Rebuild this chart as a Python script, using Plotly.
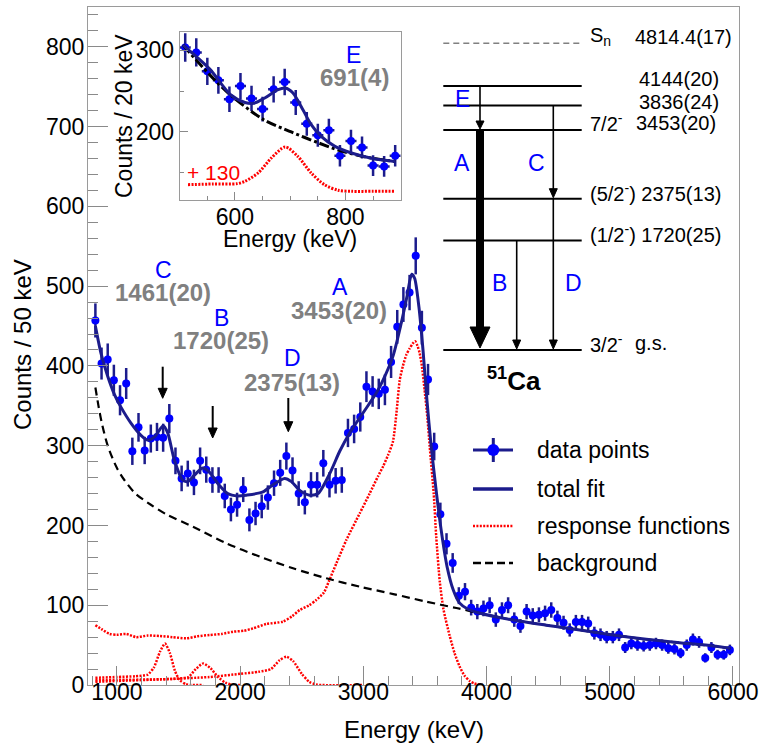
import numpy as np
import plotly.graph_objects as go

FONT = "Liberation Sans, Arial, sans-serif"

# ---------------- main spectrum (50 keV bins) ----------------
bin_centers = list(range(825, 6000, 50))
counts = [457, 403, 408, 382, 357, 378, 293, 323, 294, 309,
          311, 310, 334, 281, 259, 265, 254, 281, 270, 257,
          257, 237, 220, 226, 245, 207, 215, 224, 235, 253,
          266, 287, 269, 240, 229, 251, 251, 278, 251, 256,
          257, 316, 321, 336, 374, 368, 365, 370, 405, 449,
          477, 492, 538, 448, 383, 299, 214, 177, 153, 112,
          117, 97, 92, 96, 100, 82, 94, 100, 82, 74,
          92, 87, 88, 90, 94, 84, 78, 69, 79, 79,
          77, 65, 63, 60, 60, 63, 47, 52, 50, 49,
          50, 52, 50, 46, 45, 40, 50, 57, 54, 34,
          47, 38, 38, 44]
assert len(counts) == len(bin_centers)
half_bin = 25

fit_x = [825, 870, 925, 980, 1030, 1115, 1195, 1250, 1305, 1375, 1412, 1466, 1533, 1574,
         1628, 1696, 1750, 1817, 1899, 1980, 2050, 2185, 2266, 2361, 2416, 2483, 2564,
         2632, 2727, 2808, 2889, 2997, 3105, 3159, 3240, 3308, 3354, 3392, 3416, 3451,
         3484, 3516, 3550, 3590, 3630, 3680, 3730, 3780, 3850, 3950, 4214, 4485, 4756,
         5026, 5297, 5567, 5838, 5979]
fit_y = [450, 416, 387, 364, 349, 328, 313, 307, 311, 325, 316, 282, 257, 255,
         263, 272, 267, 253, 240, 237, 238, 242, 251, 259, 255, 244, 238,
         240, 265, 293, 316, 341, 366, 382, 412, 454, 487, 515, 510, 474,
         420, 357, 300, 245, 196, 148, 119, 103, 95, 90, 81.5, 75, 69,
         62.7, 57.3, 53, 49, 46]

bg_x = [825, 850, 875, 925, 1000, 1060, 1150, 1275, 1400, 1617, 1888, 2158, 2429, 2700,
        2970, 3243, 3511, 3755, 3944, 4214, 4485, 4756, 5026, 5297, 5567, 5838, 5979]
bg_y = [373, 350, 330, 300, 272, 257, 240, 226, 214, 198.5, 177.7, 161, 146.3, 133.8,
        123.3, 114, 104.5, 96.5, 90, 81.5, 75, 69, 62.7, 57.3, 53, 49, 46]

respA_x = [825, 875, 940, 1000, 1076, 1157, 1250, 1347, 1450, 1563, 1650, 1752, 1850, 1942,
           2030, 2104, 2213, 2347, 2420, 2483, 2560, 2618, 2680, 2720, 2781, 2862, 2970,
           3051, 3120, 3160, 3200, 3240, 3268, 3295, 3321, 3349, 3376, 3400, 3420, 3440,
           3457, 3475, 3497, 3520, 3538, 3571, 3592, 3620, 3650, 3700, 3740, 3782, 3820,
           3863, 3900, 3970]
respA_y = [75, 70, 64, 63, 64, 60, 62, 61.5, 60, 58.5, 61, 62.7, 64, 66.8,
           68, 71, 76.5, 79.4, 86, 94, 100, 106.6, 116, 130, 152.6, 181.8, 215,
           240, 262, 274, 288, 305, 340, 382, 400, 414, 422, 428, 431, 425,
           416, 400, 370, 335, 300, 240, 185, 130, 95, 62, 40, 23, 12,
           5, 2, 0]

respC_x = [825, 1000, 1150, 1250, 1300, 1350, 1390, 1430, 1470, 1510, 1560, 1600, 1700]
respC_y = [9, 10, 11, 13, 22, 42, 52, 40, 18, 6, 1, 0, 0]

respB_x = [825, 1000, 1300, 1500, 1580, 1640, 1700, 1760, 1820, 1880, 1940, 2000]
respB_y = [6, 6.5, 7, 8, 10, 20, 27, 21, 10, 3, 0, 0]

respD_x = [825, 1000, 1350, 1750, 2000, 2150, 2250, 2320, 2375, 2430, 2500, 2560, 2620, 3000]
respD_y = [4, 5, 7, 10, 14, 16.5, 20, 31, 35.5, 30, 14, 4, 0.5, 0]

# ---------------- inset (20 keV bins) ----------------
ins_x = list(range(510, 900, 20))
ins_counts = [303, 297, 274, 263, 240, 256, 241, 228, 252, 261,
              236, 210, 196, 202, 171, 189, 181, 159, 158, 171]
ins_half_bin = 10
ins_fit_x = [506, 554, 592, 618, 634, 654, 678, 691, 705, 723, 738, 756, 781, 811, 847, 890]
ins_fit_y = [306, 277, 245.5, 236, 235, 241.5, 251.6, 253.6, 247.5, 227, 209, 194.6, 182.5,
             174.4, 168, 164]
ins_bg_x = [506, 554, 592, 652, 702, 750, 791, 840, 890]
ins_bg_y = [306, 270, 245, 215, 200, 187, 177, 169, 164]
ins_resp_x = [515, 560, 605, 618, 642, 666, 691, 714, 738, 762, 787, 811, 850, 889]
ins_resp_y = [135.7, 136.5, 137, 139.8, 150, 168.3, 181.7, 170, 150, 135.7, 128.8, 127.6,
              127.6, 127.6]

# ---------------- level scheme of 51Ca ----------------
level_E = [0, 1720, 2375, 3453, 3836, 4144]
Sn_E = 4814.4

# ---------------- colours ----------------
BLUE = "#0000ff"
NAVY = "#1c1c8c"
RED = "#ff0000"
GRAY = "#808080"

# ---------------- layout geometry ----------------
W, H = 764, 743
L, R, T, B = 88, 739, 7, 685


def PX(px):
    return (px - L) / (R - L)


def PY(py):
    return (B - py) / (B - T)


fig = go.Figure()

# main data
fig.add_trace(go.Scatter(
    x=bin_centers, y=counts, mode="markers",
    marker=dict(color=BLUE, size=8),
    error_y=dict(type="data", array=list(np.sqrt(counts)), color=NAVY, thickness=2.5, width=0),
    error_x=dict(type="constant", value=half_bin, color=NAVY, thickness=2.5, width=0),
    showlegend=False, xaxis="x", yaxis="y"))

dot = "2px,1.4px"
for rx, ry in [(respA_x, respA_y), (respC_x, respC_y), (respB_x, respB_y), (respD_x, respD_y)]:
    fig.add_trace(go.Scatter(x=rx, y=ry, mode="lines",
                             line=dict(color=RED, width=2.5, dash=dot, shape="spline", smoothing=0.6),
                             showlegend=False, xaxis="x", yaxis="y"))
fig.add_trace(go.Scatter(x=bg_x, y=bg_y, mode="lines",
                         line=dict(color="black", width=2.2, dash="8px,5px", shape="spline", smoothing=0.8),
                         showlegend=False, xaxis="x", yaxis="y"))
fig.add_trace(go.Scatter(x=fit_x, y=fit_y, mode="lines",
                         line=dict(color=NAVY, width=3, shape="spline", smoothing=0.7),
                         showlegend=False, xaxis="x", yaxis="y"))

# inset
fig.add_trace(go.Scatter(
    x=ins_x, y=ins_counts, mode="markers",
    marker=dict(color=BLUE, size=8),
    error_y=dict(type="data", array=list(np.sqrt(ins_counts)), color=NAVY, thickness=2.5, width=0),
    error_x=dict(type="constant", value=ins_half_bin, color=NAVY, thickness=2.5, width=0),
    showlegend=False, xaxis="x2", yaxis="y2"))
fig.add_trace(go.Scatter(x=ins_resp_x, y=ins_resp_y, mode="lines",
                         line=dict(color=RED, width=3, dash=dot, shape="spline", smoothing=0.8),
                         showlegend=False, xaxis="x2", yaxis="y2"))
fig.add_trace(go.Scatter(x=ins_bg_x, y=ins_bg_y, mode="lines",
                         line=dict(color="black", width=3, dash="10px,3px,3px,3px", shape="spline", smoothing=0.8),
                         showlegend=False, xaxis="x2", yaxis="y2"))
fig.add_trace(go.Scatter(x=ins_fit_x, y=ins_fit_y, mode="lines",
                         line=dict(color=NAVY, width=3, shape="spline", smoothing=0.8),
                         showlegend=False, xaxis="x2", yaxis="y2"))

shapes = []
ann = []


def line_px(x0, y0, x1, y1, color="black", width=2, dash="solid"):
    shapes.append(dict(type="line", xref="paper", yref="paper",
                       x0=PX(x0), y0=PY(y0), x1=PX(x1), y1=PY(y1),
                       line=dict(color=color, width=width, dash=dash)))


def tri_down(x, ytip, hw, hh, color="black"):
    path = "M {} {} L {} {} L {} {} Z".format(PX(x - hw), PY(ytip - hh), PX(x + hw), PY(ytip - hh),
                                              PX(x), PY(ytip))
    shapes.append(dict(type="path", xref="paper", yref="paper", path=path,
                       fillcolor=color, line=dict(color=color, width=1)))


def arrow_px(x, y0, y1, width=2, hw=4, hh=9):
    line_px(x, y0, x, y1 - hh + 1, width=width)
    tri_down(x, y1, hw, hh)


def text_px(x, y, s, size=23, color="black", xanchor="center", bold=False, angle=0):
    if bold:
        s = "<b>" + s + "</b>"
    ann.append(dict(x=PX(x), y=PY(y), xref="paper", yref="paper", text=s, showarrow=False,
                    xanchor=xanchor, yanchor="middle", textangle=angle,
                    font=dict(family=FONT, size=size, color=color)))


# --- level scheme ---
def lvl_y(E):
    return 350 - 0.06371 * E


lx0, lx1 = 443.3, 581.7
for E in level_E:
    line_px(lx0, lvl_y(E), lx1, lvl_y(E), width=2)
line_px(lx0, lvl_y(Sn_E), lx1, lvl_y(Sn_E), color=GRAY, width=1.6, dash="6px,4px")

xA, xB, xCD = 480, 516.7, 553.3
arrow_px(xA, lvl_y(4144), lvl_y(3453) - 1, width=1.6, hw=4, hh=8)
# thick A arrow
line_px(xA, lvl_y(3453), xA, lvl_y(0) - 20, width=8)
tri_down(xA, lvl_y(0) - 2, 10, 21)
arrow_px(xCD, lvl_y(3836), lvl_y(2375) - 1, width=1.6, hw=4, hh=9)
arrow_px(xB, lvl_y(1720), lvl_y(0) - 1, width=1.6, hw=4, hh=9)
arrow_px(xCD, lvl_y(2375), lvl_y(0) - 1, width=1.6, hw=4, hh=9)

LS = 20
text_px(588, 37, "S<sub>n</sub>", size=LS, xanchor="left")
text_px(633, 37, "4814.4(17)", size=LS, xanchor="left")
text_px(637, 79, "4144(20)", size=LS, xanchor="left")
text_px(637, 102, "3836(24)", size=LS, xanchor="left")
text_px(588, 123, "7/2<sup>-</sup>", size=LS, xanchor="left")
text_px(634, 123, "3453(20)", size=LS, xanchor="left")
text_px(588, 192, "(5/2<sup>-</sup>) 2375(13)", size=LS, xanchor="left")
text_px(588, 233, "(1/2<sup>-</sup>) 1720(25)", size=LS, xanchor="left")
text_px(588, 343, "3/2<sup>-</sup>", size=LS, xanchor="left")
text_px(633, 343, "g.s.", size=LS, xanchor="left")
text_px(514, 379, "<sup>51</sup>Ca", size=26, bold=True)

text_px(462, 99, "E", color=BLUE)
text_px(462, 163, "A", color=BLUE)
text_px(536, 163, "C", color=BLUE)
text_px(499, 283, "B", color=BLUE)
text_px(573, 283, "D", color=BLUE)

# --- spectrum labels ---
text_px(163, 270, "C", color=BLUE)
text_px(162.5, 293, "1461(20)", size=24, color=GRAY, bold=True)
text_px(221, 318, "B", color=BLUE)
text_px(221, 341, "1720(25)", size=24, color=GRAY, bold=True)
text_px(292, 358, "D", color=BLUE)
text_px(292, 382, "2375(13)", size=24, color=GRAY, bold=True)
text_px(340, 287, "A", color=BLUE)
text_px(339, 310, "3453(20)", size=24, color=GRAY, bold=True)

arrow_px(162.7, 366.7, 398.3, width=2, hw=4.5, hh=10)
arrow_px(212.7, 406, 438, width=2, hw=4.5, hh=10)
arrow_px(288.3, 398, 431.7, width=2, hw=4.5, hh=10)

# --- inset labels ---
text_px(353, 55, "E", color=BLUE)
text_px(354, 77, "691(4)", size=24, color=GRAY, bold=True)
text_px(213, 172, "+ 130", size=21, color=RED)
text_px(124, 116, "Counts / 20 keV", size=23, angle=-90)
text_px(290, 239, "Energy (keV)", size=23)

# --- axis titles ---
text_px(414, 729, "Energy (keV)", size=24)
text_px(22, 345, "Counts / 50 keV", size=24, angle=-90)

# --- legend ---
lgx0, lgx1, lgxc = 473, 513, 493.3
line_px(lgx0, 450, lgx1, 450, color=NAVY, width=3)
line_px(lgxc, 438, lgxc, 462, color=NAVY, width=3)
shapes.append(dict(type="circle", xref="paper", yref="paper",
                   x0=PX(lgxc - 6), x1=PX(lgxc + 6), y0=PY(456), y1=PY(444),
                   fillcolor=BLUE, line=dict(color=BLUE, width=0)))
line_px(lgx0, 489, lgx1, 489, color=NAVY, width=3.5)
line_px(lgx0, 526, lgx1, 526, color=RED, width=2.5, dash="2px,1.4px")
line_px(lgx0, 563, lgx1, 563, color="black", width=2.5, dash="8px,4px")
text_px(535, 450, "data points", xanchor="left")
text_px(535, 489, "total fit", xanchor="left")
text_px(535, 526, "response functions", xanchor="left")
text_px(535, 563, "background", xanchor="left")

axis_common = dict(showgrid=False, zeroline=False, showline=True, mirror=True,
                   linecolor="#9a9a9a", linewidth=1, ticks="inside", tickcolor="#8a8a8a",
                   tickfont=dict(family=FONT, size=23, color="black"))

fig.update_layout(
    width=W, height=H,
    margin=dict(l=L, r=W - R, t=T, b=H - B, autoexpand=False),
    paper_bgcolor="white", plot_bgcolor="white",
    showlegend=False,
    xaxis=dict(domain=[0, 1], range=[765, 6049], tick0=0, dtick=1000, ticklen=19,
               ticklabelstandoff=-14,
               minor=dict(dtick=200, ticklen=9, ticks="inside", tickcolor="#8a8a8a"),
               anchor="y", **axis_common),
    yaxis=dict(domain=[0, 1], range=[0, 850], tick0=0, dtick=100, ticklen=20,
               ticklabelstandoff=-2,
               minor=dict(dtick=20, ticklen=10, ticks="inside", tickcolor="#8a8a8a"),
               anchor="x", **axis_common),
    xaxis2=dict(domain=[PX(179.7), PX(400.7)], range=[500, 900], tick0=0, dtick=200, ticklen=8,
                ticklabelstandoff=-4,
                minor=dict(dtick=50, ticklen=4, ticks="inside", tickcolor="#8a8a8a"),
                anchor="y2", **axis_common),
    yaxis2=dict(domain=[PY(200), PY(32)], range=[117, 322], tick0=0, dtick=100, ticklen=8,
                minor=dict(dtick=50, ticklen=4, ticks="inside", tickcolor="#8a8a8a"),
                anchor="x2", **axis_common),
    shapes=shapes,
    annotations=ann,
)

fig.write_html("out.html")
